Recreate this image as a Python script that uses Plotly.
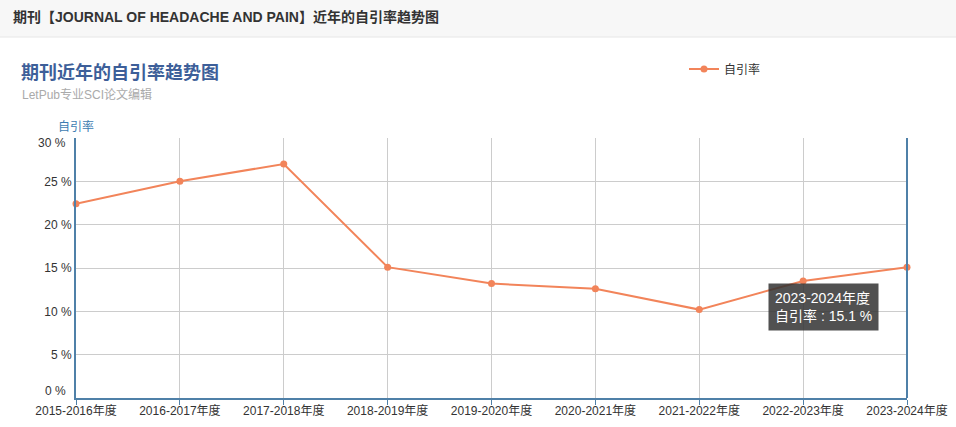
import plotly.graph_objects as go

categories = ["2015-2016年度", "2016-2017年度", "2017-2018年度", "2018-2019年度",
              "2019-2020年度", "2020-2021年度", "2021-2022年度", "2022-2023年度",
              "2023-2024年度"]
self_cite_rate = [22.4, 25.0, 27.0, 15.1, 13.2, 12.6, 10.2, 13.5, 15.1]
y_ticks = [0, 5, 10, 15, 20, 25, 30]
series_name = "自引率"

W, H = 956, 427
L, R, T, B = 76, 49, 138, 29
pw, ph = W - L - R, H - T - B

def px_x(p):
    return (p - L) / pw

def px_y(p):
    return (H - B - p) / ph

FONT = "Liberation Sans, Arial, Noto Sans CJK SC, sans-serif"
LINE = "#f2845a"
AXIS = "#4f80a8"

fig = go.Figure()
fig.add_trace(go.Scatter(
    x=categories, y=self_cite_rate, name=series_name, mode="lines+markers",
    line=dict(color=LINE, width=2), marker=dict(color=LINE, size=7),
    cliponaxis=False,
))

shapes = [
    dict(type="rect", xref="paper", yref="paper", x0=px_x(0), x1=px_x(W),
         y0=px_y(37), y1=px_y(0), fillcolor="#f7f7f7", line=dict(width=0), layer="below"),
    dict(type="line", xref="paper", yref="paper", x0=px_x(0), x1=px_x(W),
         y0=px_y(37), y1=px_y(37), line=dict(color="#e6e6e6", width=1)),
    dict(type="line", xref="paper", yref="paper", x0=1, x1=1, y0=0, y1=1,
         line=dict(color=AXIS, width=2)),
]

annotations = [
    dict(text="<b>期刊【JOURNAL OF HEADACHE AND PAIN】近年的自引率趋势图</b>", xref="paper", yref="paper",
         x=px_x(11), y=px_y(17), xanchor="left", yanchor="middle", showarrow=False,
         font=dict(family=FONT, size=14, color="#333333")),
    dict(text="<b>期刊近年的自引率趋势图</b>", xref="paper", yref="paper",
         x=px_x(19), y=px_y(72), xanchor="left", yanchor="middle", showarrow=False,
         font=dict(family=FONT, size=18, color="#3d5f99")),
    dict(text="LetPub专业SCI论文编辑", xref="paper", yref="paper",
         x=px_x(20), y=px_y(95), xanchor="left", yanchor="middle", showarrow=False,
         font=dict(family=FONT, size=12, color="#aaaaaa")),
    dict(text=series_name, xref="paper", yref="paper",
         x=px_x(76), y=px_y(127), xanchor="center", yanchor="middle", showarrow=False,
         font=dict(family=FONT, size=12, color="#3e7cb1")),
    dict(text=f"{categories[-1]}<br>{series_name} : {self_cite_rate[-1]} %",
         x=categories[-1], y=self_cite_rate[-1], xref="x", yref="y",
         xanchor="center", yanchor="middle", xshift=-84, yshift=-40, showarrow=False,
         align="left", bgcolor="rgba(50,50,50,0.85)", borderpad=6,
         font=dict(family=FONT, size=14, color="#ffffff")),
]

# end tick labels nudged inside the plot, as in the reference
for v, shift in ((y_ticks[0], 7), (y_ticks[-1], -5)):
    annotations.append(dict(
        text=f"{v} %", x=0, y=v, xref="paper", yref="y", xanchor="right",
        yanchor="middle", xshift=-8, yshift=shift, showarrow=False,
        font=dict(family=FONT, size=12, color="#333333")))

fig.update_layout(
    width=W, height=H, margin=dict(l=L, r=R, t=T, b=B, autoexpand=False),
    paper_bgcolor="#ffffff", plot_bgcolor="#ffffff",
    font=dict(family=FONT, size=12, color="#333333"),
    showlegend=True,
    legend=dict(x=px_x(684), y=px_y(69), xanchor="left", yanchor="middle",
                orientation="h", bgcolor="rgba(0,0,0,0)",
                font=dict(family=FONT, size=12, color="#333333")),
    shapes=shapes, annotations=annotations,
    hovermode=False,
)
fig.update_xaxes(
    type="category", range=[0, len(categories) - 1],
    showgrid=True, gridcolor="#cccccc", gridwidth=1,
    showline=True, linecolor=AXIS, linewidth=2,
    ticks="outside", ticklen=5, tickcolor=AXIS, ticklabelstandoff=-4,
    tickfont=dict(family=FONT, size=12, color="#333333"),
    zeroline=False, fixedrange=True, automargin=False,
)
fig.update_yaxes(
    range=[0, 30], tickvals=y_ticks,
    ticktext=["" if v in (y_ticks[0], y_ticks[-1]) else f"{v} %" for v in y_ticks],
    showgrid=True, gridcolor="#cccccc", gridwidth=1,
    showline=True, linecolor=AXIS, linewidth=2,
    ticks="", tickfont=dict(family=FONT, size=12, color="#333333"),
    zeroline=False, fixedrange=True, automargin=False,
)
fig.write_html("out.html", config={"displayModeBar": False},
               post_script="document.body.style.margin='0';document.body.style.padding='0';")
